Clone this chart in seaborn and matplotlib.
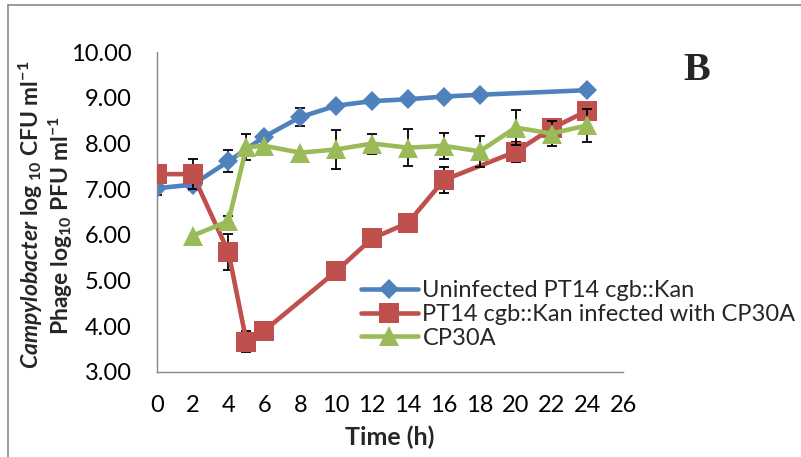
import numpy as np
import pandas as pd
import matplotlib
matplotlib.use("Agg")
import matplotlib.pyplot as plt
from matplotlib.lines import Line2D
import seaborn as sns

# Uninfected host growth (log10 CFU/ml)
t_uninf = [0, 2, 4, 6, 8, 10, 12, 14, 16, 18, 24]
v_uninf = [7.02, 7.10, 7.61, 8.15, 8.58, 8.83, 8.93, 8.97, 9.03, 9.07, 9.17]
e_uninf = [0.15, 0.12, 0.24, 0, 0.20, 0, 0, 0, 0, 0, 0]

# Host infected with phage CP30A (log10 CFU/ml)
t_inf = [0, 2, 4, 5, 6, 10, 12, 14, 16, 20, 22, 24]
v_inf = [7.33, 7.33, 5.62, 3.66, 3.90, 5.20, 5.92, 6.26, 7.20, 7.82, 8.33, 8.72]
e_inf = [0, 0.33, 0.40, 0.23, 0, 0, 0, 0.20, 0.29, 0.22, 0, 0]

# Phage titre (log10 PFU/ml)
t_phage = [2, 4, 5, 6, 8, 10, 12, 14, 16, 18, 20, 22, 24]
v_phage = [5.98, 6.30, 7.92, 7.95, 7.80, 7.87, 8.00, 7.91, 7.95, 7.83, 8.35, 8.22, 8.40]
e_phage = [0, 0.12, 0.29, 0, 0, 0.43, 0.22, 0.41, 0.28, 0.34, 0.38, 0.28, 0.36]

labels = ["Uninfected PT14 cgb::Kan",
          "PT14 cgb::Kan infected with CP30A",
          "CP30A"]
colors = ["#4F81BD", "#C0504D", "#9BBB59"]
markers = ["D", "s", "^"]
msizes = [10.5, 14.0, 15.0]

x_ticks = list(range(0, 27, 2))
y_ticks = [3, 4, 5, 6, 7, 8, 9, 10]

sns.set_style("white")
plt.rcParams["font.family"] = ["Lato", "DejaVu Sans"]
plt.rcParams["mathtext.fontset"] = "custom"
plt.rcParams["mathtext.rm"] = "Lato"
plt.rcParams["mathtext.it"] = "Lato:italic"
plt.rcParams["mathtext.bf"] = "Lato:bold"
plt.rcParams["mathtext.bfit"] = "Lato:bold:italic"

fig = plt.figure(figsize=(8.01, 4.57), dpi=100)
ax = fig.add_axes([156.7 / 801, 1 - 371.7 / 457, 466.6 / 801, 319.4 / 457])

series = [(t_uninf, v_uninf, e_uninf), (t_inf, v_inf, e_inf), (t_phage, v_phage, e_phage)]
for i, (t, v, e) in enumerate(series):
    df = pd.DataFrame({"Time": t, "Value": v, "Err": e})
    eb = df[df["Err"] > 0]
    ax.errorbar(eb["Time"], eb["Value"], yerr=eb["Err"], fmt="none",
                ecolor="black", elinewidth=1.3, capsize=3.6, capthick=1.3,
                zorder=2 + i)
    sns.lineplot(data=df, x="Time", y="Value", ax=ax, color=colors[i],
                 marker=markers[i], markersize=msizes[i], markeredgewidth=0,
                 linewidth=3.3, label=labels[i], zorder=2.5 + i)

ax.set_xlim(0, 26)
ax.set_ylim(3, 10)
ax.set_xticks(x_ticks)
ax.set_yticks(y_ticks)
ax.set_yticklabels([f"{y:.2f}" for y in y_ticks])
ax.set_xlabel("")
ax.set_ylabel("")

for side in ["top", "right"]:
    ax.spines[side].set_visible(False)
for side in ["left", "bottom"]:
    ax.spines[side].set_color("#868686")
    ax.spines[side].set_linewidth(1.0)
ax.tick_params(axis="both", direction="out", length=7, width=1.0,
               color="#868686", labelcolor="black", labelsize=17, pad=10)
ax.tick_params(axis="y", pad=11)

leg = ax.legend(loc="upper left", bbox_to_anchor=(361 / 801, 1 - 280 / 457),
                bbox_transform=fig.transFigure, frameon=False, fontsize=17,
                handlelength=2.4, handletextpad=0.2, labelspacing=0.12,
                borderpad=0, borderaxespad=0)

fig.text(390 / 801, 1 - 437 / 457, "Time (h)", ha="center", va="center",
         fontsize=18, fontweight="bold")
fig.text(31 / 801, 1 - 215 / 457,
         r"$\mathbfit{Campylobacter}$ log$_{\mathbf{\ 10}}$ CFU ml$^{\mathbf{-1}}$",
         rotation=90, ha="center", va="center", fontsize=16.5, fontweight="bold")
fig.text(61 / 801, 1 - 226 / 457,
         r"Phage log$_{\mathbf{10}}$ PFU ml$^{\mathbf{-1}}$",
         rotation=90, ha="center", va="center", fontsize=16.5, fontweight="bold")
fig.text(683 / 801, 1 - 80 / 457, "B", ha="left", va="baseline",
         fontsize=29, fontweight="bold", family=["Liberation Serif"])

# outer chart frame
fig.add_artist(Line2D([8 / 801, 8 / 801], [0, 1 - 5 / 457],
                      transform=fig.transFigure, color="#8a8a8a", linewidth=1.2))
fig.add_artist(Line2D([8 / 801, 1], [1 - 5 / 457, 1 - 5 / 457],
                      transform=fig.transFigure, color="#8a8a8a", linewidth=1.2))

fig.savefig("out.png", dpi=100)
